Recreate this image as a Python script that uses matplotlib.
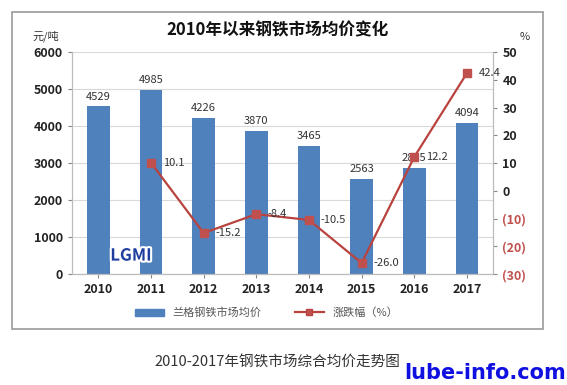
import numpy as np
import matplotlib.pyplot as plt
import matplotlib.patheffects as pe
from matplotlib.ticker import FuncFormatter

plt.rcParams['font.family'] = ['Noto Sans CJK SC', 'DejaVu Sans']

years = ["2010", "2011", "2012", "2013", "2014", "2015", "2016", "2017"]
prices = [4529, 4985, 4226, 3870, 3465, 2563, 2875, 4094]
change_years = ["2011", "2012", "2013", "2014", "2015", "2016", "2017"]
change = [10.1, -15.2, -8.4, -10.5, -26.0, 12.2, 42.4]

bar_color = "#4F81BD"
line_color = "#B8433F"
mark_color = "#C0504D"
neg_color = "#C0504D"

fig = plt.figure(figsize=(5.67, 3.85), dpi=100)
ax = fig.add_axes([0.127, 0.288, 0.743, 0.577])
ax2 = ax.twinx()

x = np.arange(len(years))
ax.bar(x, prices, width=0.43, color=bar_color, zorder=2)
for xi, v in zip(x, prices):
    ax.text(xi, v + 130, str(v), ha="center", va="bottom", fontsize=8, color="#333333")

ax.set_xlim(-0.5, len(years) - 0.5)
ax.set_ylim(0, 6000)
ax.set_yticks(range(0, 6001, 1000))
ax.set_xticks(x)
ax.set_xticklabels(years, fontsize=9, fontweight="bold", color="#222222")
ax.tick_params(axis="y", labelsize=9, colors="#888888", labelcolor="#222222", length=3)
ax.tick_params(axis="x", length=3, colors="#888888", labelcolor="#222222")
for lab in ax.get_yticklabels():
    lab.set_fontweight("bold")
ax.grid(axis="y", color="#D9D9D9", linewidth=0.8, zorder=0)
ax.set_axisbelow(True)
ax.spines["top"].set_visible(False)
ax2.spines["top"].set_visible(False)
for s in ["left", "bottom", "right"]:
    ax.spines[s].set_color("#BBBBBB")
    ax2.spines[s].set_color("#BBBBBB")

cx = [years.index(y) for y in change_years]
ax2.plot(cx, change, color=line_color, linewidth=1.6, marker="s", markersize=6,
         markerfacecolor=mark_color, markeredgecolor=mark_color, zorder=3)
for xi, v in zip(cx, change):
    ax2.text(xi + 0.22, v, f"{v:.1f}", ha="left", va="center", fontsize=8, color="#333333")

ax2.set_ylim(-30, 50)
ax2.set_yticks(range(-30, 51, 10))
ax2.yaxis.set_major_formatter(FuncFormatter(lambda v, p: f"({abs(int(v))})" if v < 0 else f"{int(v)}"))
ax2.tick_params(axis="y", labelsize=9, colors="#888888", labelcolor="#222222", length=3)
for lab, v in zip(ax2.get_yticklabels(), range(-30, 51, 10)):
    lab.set_fontweight("bold")
    if v < 0:
        lab.set_color(neg_color)

# logo
ax.text(0.62, 500, "LGMI", fontsize=12, fontweight="bold", fontstyle="italic",
        color="#1F3F9F", ha="center", va="center", zorder=4,
        path_effects=[pe.withStroke(linewidth=3, foreground="white")])

# titles and units
fig.text(0.49, 0.922, "2010年以来钢铁市场均价变化", ha="center", va="center",
         fontsize=12, fontweight="bold", color="#111111")
fig.text(0.08, 0.905, "元/吨", ha="center", va="center", fontsize=8, color="#333333")
fig.text(0.925, 0.905, "%", ha="center", va="center", fontsize=8, color="#333333")

# legend
handles = [plt.Rectangle((0, 0), 1, 1, color=bar_color),
           plt.Line2D([0], [0], color=line_color, marker="s", markersize=5,
                      markerfacecolor=mark_color, linewidth=1.6)]
fig.legend(handles, ["兰格钢铁市场均价", "涨跌幅（%）"], loc="center",
           bbox_to_anchor=(0.47, 0.187), ncol=2, frameon=False, fontsize=8,
           handlelength=2.6, columnspacing=3, labelcolor="#555555")

# outer frame
frame = plt.Rectangle((0.022, 0.145), 0.935, 0.825, transform=fig.transFigure,
                      fill=False, edgecolor="#999999", linewidth=1.2)
fig.patches.append(frame)

fig.text(0.49, 0.06, "2010-2017年钢铁市场综合均价走势图", ha="center", va="center",
         fontsize=10.5, color="#333333")
fig.text(0.855, 0.03, "lube-info.com", ha="center", va="center", fontsize=15,
         fontweight="bold", color="#1010E0", family="DejaVu Sans")

fig.savefig("out.png", dpi=100)
